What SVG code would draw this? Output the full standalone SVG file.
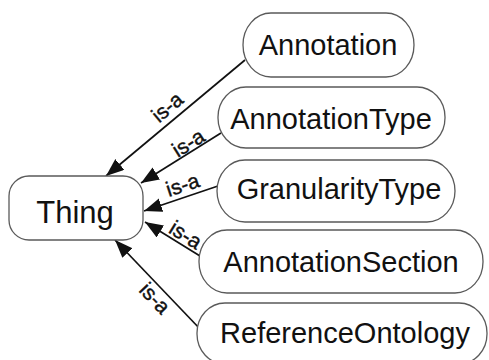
<svg xmlns="http://www.w3.org/2000/svg" width="489" height="360" viewBox="0 0 489 360">
<style>
.node{fill:#fff;stroke:#5a5a5a;stroke-width:1.3}
.nt{font-family:"Liberation Sans",Arial,sans-serif;font-size:29px;fill:#111;text-anchor:middle}
.edge{stroke:#111;stroke-width:1.7;fill:none}
.lbl{font-family:"Liberation Sans",Arial,sans-serif;font-size:21px;fill:#111;stroke:#111;stroke-width:0.4;text-anchor:middle}
</style>
<defs>
<marker id="arr" markerUnits="userSpaceOnUse" markerWidth="20" markerHeight="16" refX="18" refY="7" orient="auto">
<path d="M0,0 L18,7 L0,14 Z" fill="#111"/>
</marker>
</defs>
<rect width="489" height="360" fill="#fff"/>
<g id="connectors">
<line class="edge" x1="245" y1="60" x2="106" y2="176" marker-end="url(#arr)"/>
<line class="edge" x1="221" y1="133" x2="141" y2="183" marker-end="url(#arr)"/>
<line class="edge" x1="218" y1="186" x2="144" y2="211" marker-end="url(#arr)"/>
<line class="edge" x1="200" y1="256" x2="145" y2="222" marker-end="url(#arr)"/>
<line class="edge" x1="201" y1="330" x2="115" y2="240" marker-end="url(#arr)"/>
<text class="lbl" transform="translate(168,108) rotate(-40)" y="6">is-a</text>
<text class="lbl" transform="translate(189,144) rotate(-32)" y="6">is-a</text>
<text class="lbl" transform="translate(183,186) rotate(-18)" y="6">is-a</text>
<text class="lbl" transform="translate(185,236) rotate(32)" y="6">is-a</text>
<text class="lbl" transform="translate(154,299) rotate(46)" y="6">is-a</text>
</g>
<g id="Thing">
<rect class="node" x="9" y="176" width="134" height="64" rx="20" ry="20"/>
<text class="nt" x="75" y="223" style="font-size:31px">Thing</text>
</g>
<g id="Annotation">
<rect class="node" x="243" y="13" width="171" height="64" rx="28" ry="32"/>
<text class="nt" x="328" y="55">Annotation</text>
</g>
<g id="AnnotationType">
<rect class="node" x="218" y="87" width="227" height="61" rx="28" ry="30"/>
<text class="nt" x="331" y="129">AnnotationType</text>
</g>
<g id="GranularityType">
<rect class="node" x="217" y="160" width="238" height="62" rx="28" ry="31"/>
<text class="nt" x="339" y="199">GranularityType</text>
</g>
<g id="AnnotationSection">
<rect class="node" x="199" y="230" width="284" height="63" rx="28" ry="31"/>
<text class="nt" x="341" y="272">AnnotationSection</text>
</g>
<g id="ReferenceOntology">
<rect class="node" x="197" y="303" width="290" height="61" rx="28" ry="30"/>
<text class="nt" x="345" y="343">ReferenceOntology</text>
</g>
</svg>
